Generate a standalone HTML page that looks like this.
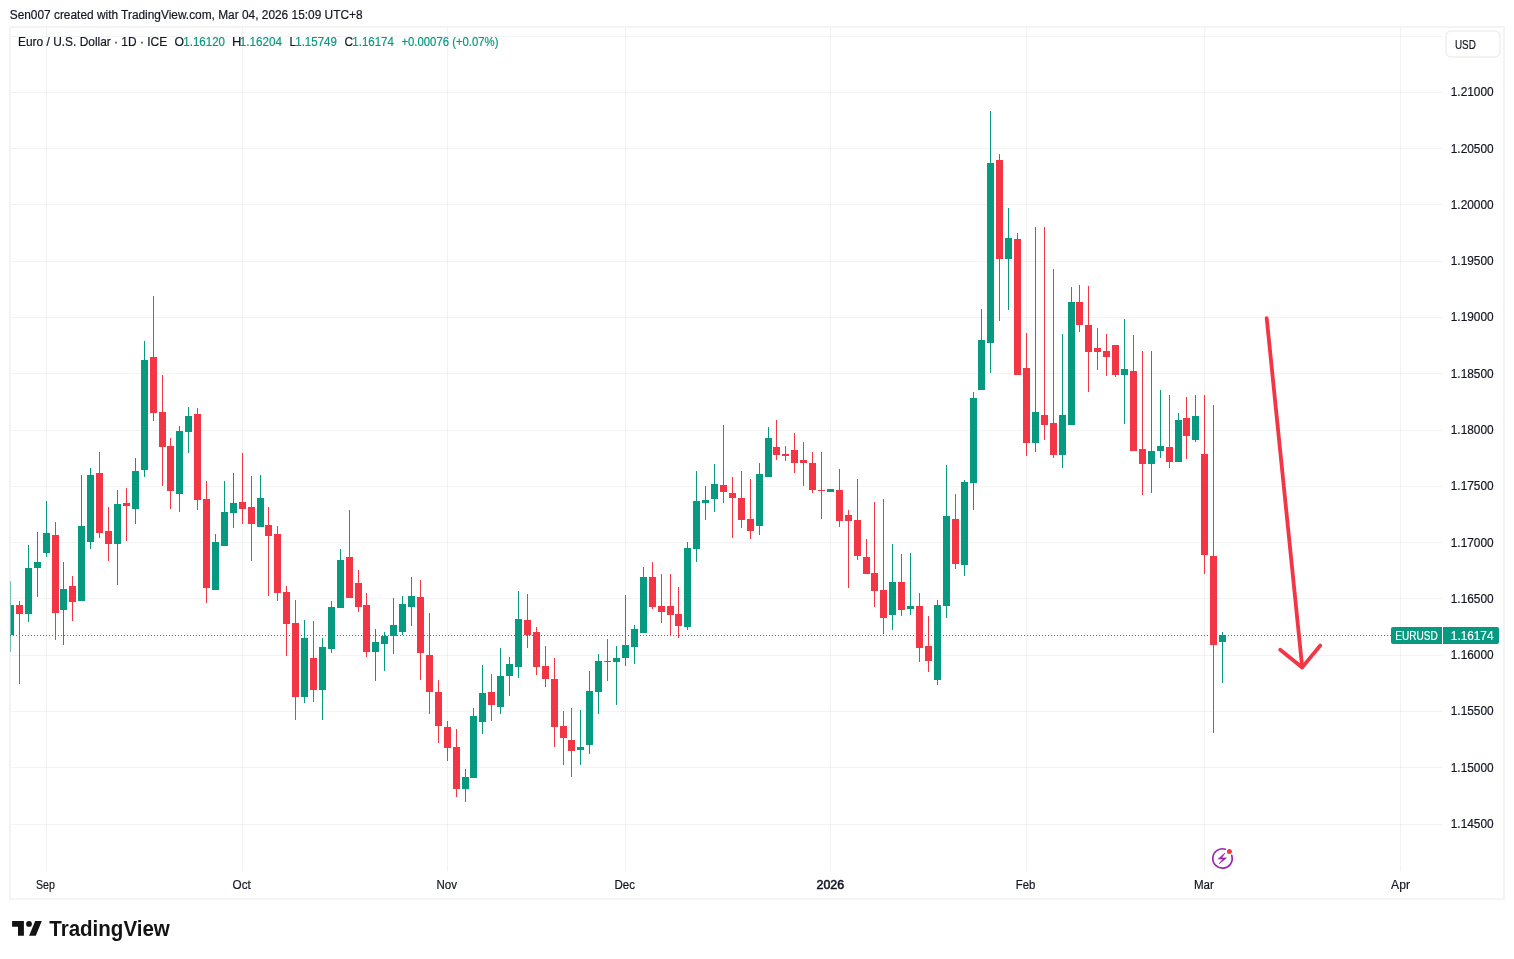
<!DOCTYPE html>
<html><head><meta charset="utf-8">
<style>
html,body{margin:0;padding:0;background:#fff;}
body{width:1514px;height:959px;position:relative;overflow:hidden;font-family:"Liberation Sans",sans-serif;color:#131722;}
text{white-space:pre;}
</style></head><body>
<svg width="1514" height="959" viewBox="0 0 1514 959" style="position:absolute;left:0;top:0;will-change:transform" shape-rendering="crispEdges"><defs><clipPath id="plot"><rect x="11" y="28" width="1431" height="842"/></clipPath></defs><rect x="10" y="27" width="1494" height="872" fill="none" stroke="#F4F4F4" stroke-width="2"/><rect x="11" y="36" width="1431" height="1" fill="rgba(42,46,57,0.06)"/><rect x="11" y="92" width="1431" height="1" fill="rgba(42,46,57,0.06)"/><rect x="11" y="148" width="1431" height="1" fill="rgba(42,46,57,0.06)"/><rect x="11" y="204" width="1431" height="1" fill="rgba(42,46,57,0.06)"/><rect x="11" y="261" width="1431" height="1" fill="rgba(42,46,57,0.06)"/><rect x="11" y="317" width="1431" height="1" fill="rgba(42,46,57,0.06)"/><rect x="11" y="373" width="1431" height="1" fill="rgba(42,46,57,0.06)"/><rect x="11" y="430" width="1431" height="1" fill="rgba(42,46,57,0.06)"/><rect x="11" y="486" width="1431" height="1" fill="rgba(42,46,57,0.06)"/><rect x="11" y="542" width="1431" height="1" fill="rgba(42,46,57,0.06)"/><rect x="11" y="598" width="1431" height="1" fill="rgba(42,46,57,0.06)"/><rect x="11" y="655" width="1431" height="1" fill="rgba(42,46,57,0.06)"/><rect x="11" y="711" width="1431" height="1" fill="rgba(42,46,57,0.06)"/><rect x="11" y="767" width="1431" height="1" fill="rgba(42,46,57,0.06)"/><rect x="11" y="824" width="1431" height="1" fill="rgba(42,46,57,0.06)"/><rect x="46" y="28" width="1" height="843" fill="rgba(42,46,57,0.06)"/><rect x="242" y="28" width="1" height="843" fill="rgba(42,46,57,0.06)"/><rect x="447" y="28" width="1" height="843" fill="rgba(42,46,57,0.06)"/><rect x="625" y="28" width="1" height="843" fill="rgba(42,46,57,0.06)"/><rect x="830" y="28" width="1" height="843" fill="rgba(42,46,57,0.06)"/><rect x="1026" y="28" width="1" height="843" fill="rgba(42,46,57,0.06)"/><rect x="1204" y="28" width="1" height="843" fill="rgba(42,46,57,0.06)"/><rect x="1400" y="28" width="1" height="843" fill="rgba(42,46,57,0.06)"/><g clip-path="url(#plot)"><rect x="10" y="581" width="1" height="71" fill="#089981"/><rect x="7" y="605" width="7" height="30" fill="#089981"/><rect x="19" y="601" width="1" height="83" fill="#F23645"/><rect x="16" y="605" width="7" height="9" fill="#F23645"/><rect x="28" y="545" width="1" height="77" fill="#089981"/><rect x="25" y="568" width="7" height="46" fill="#089981"/><rect x="37" y="532" width="1" height="65" fill="#089981"/><rect x="34" y="562" width="7" height="6" fill="#089981"/><rect x="46" y="501" width="1" height="56" fill="#089981"/><rect x="43" y="533" width="7" height="20" fill="#089981"/><rect x="55" y="522" width="1" height="118" fill="#F23645"/><rect x="52" y="535" width="7" height="78" fill="#F23645"/><rect x="63" y="562" width="1" height="83" fill="#089981"/><rect x="60" y="589" width="7" height="21" fill="#089981"/><rect x="72" y="576" width="1" height="45" fill="#F23645"/><rect x="69" y="586" width="7" height="16" fill="#F23645"/><rect x="81" y="475" width="1" height="126" fill="#089981"/><rect x="78" y="526" width="7" height="75" fill="#089981"/><rect x="90" y="468" width="1" height="81" fill="#089981"/><rect x="87" y="475" width="7" height="67" fill="#089981"/><rect x="99" y="452" width="1" height="86" fill="#F23645"/><rect x="96" y="473" width="7" height="60" fill="#F23645"/><rect x="108" y="507" width="1" height="54" fill="#F23645"/><rect x="105" y="531" width="7" height="13" fill="#F23645"/><rect x="117" y="490" width="1" height="95" fill="#089981"/><rect x="114" y="504" width="7" height="40" fill="#089981"/><rect x="126" y="488" width="1" height="53" fill="#F23645"/><rect x="123" y="503" width="7" height="3" fill="#F23645"/><rect x="135" y="458" width="1" height="66" fill="#089981"/><rect x="132" y="471" width="7" height="38" fill="#089981"/><rect x="144" y="341" width="1" height="136" fill="#089981"/><rect x="141" y="360" width="7" height="110" fill="#089981"/><rect x="153" y="296" width="1" height="125" fill="#F23645"/><rect x="150" y="357" width="7" height="56" fill="#F23645"/><rect x="162" y="375" width="1" height="111" fill="#F23645"/><rect x="159" y="412" width="7" height="35" fill="#F23645"/><rect x="170" y="438" width="1" height="71" fill="#F23645"/><rect x="167" y="446" width="7" height="45" fill="#F23645"/><rect x="179" y="426" width="1" height="86" fill="#089981"/><rect x="176" y="431" width="7" height="63" fill="#089981"/><rect x="188" y="407" width="1" height="46" fill="#089981"/><rect x="185" y="416" width="7" height="16" fill="#089981"/><rect x="197" y="408" width="1" height="102" fill="#F23645"/><rect x="194" y="414" width="7" height="86" fill="#F23645"/><rect x="206" y="481" width="1" height="122" fill="#F23645"/><rect x="203" y="499" width="7" height="89" fill="#F23645"/><rect x="215" y="534" width="1" height="56" fill="#089981"/><rect x="212" y="542" width="7" height="48" fill="#089981"/><rect x="224" y="481" width="1" height="65" fill="#089981"/><rect x="221" y="512" width="7" height="34" fill="#089981"/><rect x="233" y="473" width="1" height="55" fill="#089981"/><rect x="230" y="503" width="7" height="10" fill="#089981"/><rect x="242" y="453" width="1" height="71" fill="#F23645"/><rect x="239" y="502" width="7" height="7" fill="#F23645"/><rect x="251" y="476" width="1" height="85" fill="#F23645"/><rect x="248" y="507" width="7" height="17" fill="#F23645"/><rect x="260" y="475" width="1" height="52" fill="#089981"/><rect x="257" y="498" width="7" height="29" fill="#089981"/><rect x="268" y="507" width="1" height="89" fill="#F23645"/><rect x="265" y="525" width="7" height="11" fill="#F23645"/><rect x="277" y="526" width="1" height="75" fill="#F23645"/><rect x="274" y="534" width="7" height="59" fill="#F23645"/><rect x="286" y="586" width="1" height="70" fill="#F23645"/><rect x="283" y="592" width="7" height="32" fill="#F23645"/><rect x="295" y="600" width="1" height="120" fill="#F23645"/><rect x="292" y="623" width="7" height="74" fill="#F23645"/><rect x="304" y="620" width="1" height="83" fill="#089981"/><rect x="301" y="638" width="7" height="59" fill="#089981"/><rect x="313" y="621" width="1" height="81" fill="#F23645"/><rect x="310" y="658" width="7" height="32" fill="#F23645"/><rect x="322" y="638" width="1" height="82" fill="#089981"/><rect x="319" y="647" width="7" height="43" fill="#089981"/><rect x="331" y="601" width="1" height="52" fill="#089981"/><rect x="328" y="607" width="7" height="42" fill="#089981"/><rect x="340" y="549" width="1" height="59" fill="#089981"/><rect x="337" y="560" width="7" height="48" fill="#089981"/><rect x="349" y="510" width="1" height="88" fill="#F23645"/><rect x="346" y="557" width="7" height="41" fill="#F23645"/><rect x="358" y="570" width="1" height="42" fill="#F23645"/><rect x="355" y="583" width="7" height="24" fill="#F23645"/><rect x="366" y="593" width="1" height="64" fill="#F23645"/><rect x="363" y="605" width="7" height="47" fill="#F23645"/><rect x="375" y="629" width="1" height="52" fill="#089981"/><rect x="372" y="642" width="7" height="10" fill="#089981"/><rect x="384" y="632" width="1" height="39" fill="#089981"/><rect x="381" y="636" width="7" height="8" fill="#089981"/><rect x="393" y="598" width="1" height="56" fill="#089981"/><rect x="390" y="625" width="7" height="11" fill="#089981"/><rect x="402" y="596" width="1" height="39" fill="#089981"/><rect x="399" y="604" width="7" height="28" fill="#089981"/><rect x="411" y="577" width="1" height="49" fill="#089981"/><rect x="408" y="596" width="7" height="11" fill="#089981"/><rect x="420" y="580" width="1" height="100" fill="#F23645"/><rect x="417" y="597" width="7" height="56" fill="#F23645"/><rect x="429" y="613" width="1" height="101" fill="#F23645"/><rect x="426" y="655" width="7" height="37" fill="#F23645"/><rect x="438" y="680" width="1" height="63" fill="#F23645"/><rect x="435" y="692" width="7" height="34" fill="#F23645"/><rect x="447" y="721" width="1" height="40" fill="#F23645"/><rect x="444" y="727" width="7" height="21" fill="#F23645"/><rect x="456" y="729" width="1" height="68" fill="#F23645"/><rect x="453" y="747" width="7" height="42" fill="#F23645"/><rect x="465" y="769" width="1" height="33" fill="#089981"/><rect x="462" y="777" width="7" height="12" fill="#089981"/><rect x="473" y="708" width="1" height="70" fill="#089981"/><rect x="470" y="716" width="7" height="62" fill="#089981"/><rect x="482" y="665" width="1" height="69" fill="#089981"/><rect x="479" y="693" width="7" height="29" fill="#089981"/><rect x="491" y="674" width="1" height="47" fill="#F23645"/><rect x="488" y="692" width="7" height="13" fill="#F23645"/><rect x="500" y="648" width="1" height="66" fill="#089981"/><rect x="497" y="676" width="7" height="31" fill="#089981"/><rect x="509" y="657" width="1" height="39" fill="#089981"/><rect x="506" y="664" width="7" height="12" fill="#089981"/><rect x="518" y="591" width="1" height="87" fill="#089981"/><rect x="515" y="619" width="7" height="48" fill="#089981"/><rect x="527" y="594" width="1" height="54" fill="#F23645"/><rect x="524" y="620" width="7" height="15" fill="#F23645"/><rect x="536" y="627" width="1" height="48" fill="#F23645"/><rect x="533" y="632" width="7" height="35" fill="#F23645"/><rect x="545" y="646" width="1" height="41" fill="#F23645"/><rect x="542" y="666" width="7" height="13" fill="#F23645"/><rect x="554" y="658" width="1" height="89" fill="#F23645"/><rect x="551" y="679" width="7" height="48" fill="#F23645"/><rect x="563" y="711" width="1" height="54" fill="#F23645"/><rect x="560" y="726" width="7" height="12" fill="#F23645"/><rect x="571" y="708" width="1" height="69" fill="#F23645"/><rect x="568" y="740" width="7" height="11" fill="#F23645"/><rect x="580" y="710" width="1" height="55" fill="#089981"/><rect x="577" y="747" width="7" height="3" fill="#089981"/><rect x="589" y="671" width="1" height="83" fill="#089981"/><rect x="586" y="691" width="7" height="54" fill="#089981"/><rect x="598" y="654" width="1" height="60" fill="#089981"/><rect x="595" y="661" width="7" height="31" fill="#089981"/><rect x="607" y="639" width="1" height="42" fill="#F23645"/><rect x="604" y="661" width="7" height="1" fill="#F23645"/><rect x="616" y="646" width="1" height="59" fill="#089981"/><rect x="613" y="658" width="7" height="4" fill="#089981"/><rect x="625" y="595" width="1" height="71" fill="#089981"/><rect x="622" y="645" width="7" height="13" fill="#089981"/><rect x="634" y="625" width="1" height="39" fill="#089981"/><rect x="631" y="629" width="7" height="18" fill="#089981"/><rect x="643" y="567" width="1" height="66" fill="#089981"/><rect x="640" y="577" width="7" height="56" fill="#089981"/><rect x="652" y="562" width="1" height="47" fill="#F23645"/><rect x="649" y="577" width="7" height="30" fill="#F23645"/><rect x="661" y="574" width="1" height="49" fill="#F23645"/><rect x="658" y="606" width="7" height="6" fill="#F23645"/><rect x="670" y="574" width="1" height="61" fill="#F23645"/><rect x="667" y="606" width="7" height="9" fill="#F23645"/><rect x="678" y="587" width="1" height="51" fill="#F23645"/><rect x="675" y="614" width="7" height="12" fill="#F23645"/><rect x="687" y="542" width="1" height="88" fill="#089981"/><rect x="684" y="548" width="7" height="79" fill="#089981"/><rect x="696" y="471" width="1" height="91" fill="#089981"/><rect x="693" y="501" width="7" height="48" fill="#089981"/><rect x="705" y="486" width="1" height="34" fill="#089981"/><rect x="702" y="500" width="7" height="3" fill="#089981"/><rect x="714" y="464" width="1" height="48" fill="#089981"/><rect x="711" y="484" width="7" height="15" fill="#089981"/><rect x="723" y="425" width="1" height="78" fill="#F23645"/><rect x="720" y="485" width="7" height="7" fill="#F23645"/><rect x="732" y="477" width="1" height="61" fill="#F23645"/><rect x="729" y="493" width="7" height="5" fill="#F23645"/><rect x="741" y="471" width="1" height="57" fill="#F23645"/><rect x="738" y="498" width="7" height="22" fill="#F23645"/><rect x="750" y="479" width="1" height="60" fill="#F23645"/><rect x="747" y="519" width="7" height="12" fill="#F23645"/><rect x="759" y="463" width="1" height="72" fill="#089981"/><rect x="756" y="474" width="7" height="52" fill="#089981"/><rect x="768" y="427" width="1" height="50" fill="#089981"/><rect x="765" y="438" width="7" height="39" fill="#089981"/><rect x="776" y="420" width="1" height="40" fill="#F23645"/><rect x="773" y="447" width="7" height="8" fill="#F23645"/><rect x="785" y="446" width="1" height="15" fill="#F23645"/><rect x="782" y="454" width="7" height="2" fill="#F23645"/><rect x="794" y="433" width="1" height="40" fill="#F23645"/><rect x="791" y="450" width="7" height="13" fill="#F23645"/><rect x="803" y="442" width="1" height="44" fill="#F23645"/><rect x="800" y="460" width="7" height="3" fill="#F23645"/><rect x="812" y="452" width="1" height="41" fill="#F23645"/><rect x="809" y="463" width="7" height="27" fill="#F23645"/><rect x="821" y="452" width="1" height="67" fill="#F23645"/><rect x="818" y="490" width="7" height="1" fill="#F23645"/><rect x="830" y="489" width="1" height="3" fill="#089981"/><rect x="827" y="489" width="7" height="3" fill="#089981"/><rect x="839" y="469" width="1" height="58" fill="#F23645"/><rect x="836" y="490" width="7" height="31" fill="#F23645"/><rect x="848" y="510" width="1" height="78" fill="#F23645"/><rect x="845" y="515" width="7" height="6" fill="#F23645"/><rect x="857" y="479" width="1" height="81" fill="#F23645"/><rect x="854" y="520" width="7" height="36" fill="#F23645"/><rect x="866" y="539" width="1" height="35" fill="#F23645"/><rect x="863" y="557" width="7" height="17" fill="#F23645"/><rect x="874" y="502" width="1" height="105" fill="#F23645"/><rect x="871" y="573" width="7" height="18" fill="#F23645"/><rect x="883" y="499" width="1" height="135" fill="#F23645"/><rect x="880" y="590" width="7" height="28" fill="#F23645"/><rect x="892" y="544" width="1" height="86" fill="#089981"/><rect x="889" y="582" width="7" height="33" fill="#089981"/><rect x="901" y="554" width="1" height="62" fill="#F23645"/><rect x="898" y="582" width="7" height="28" fill="#F23645"/><rect x="910" y="553" width="1" height="62" fill="#089981"/><rect x="907" y="606" width="7" height="3" fill="#089981"/><rect x="919" y="593" width="1" height="69" fill="#F23645"/><rect x="916" y="606" width="7" height="42" fill="#F23645"/><rect x="928" y="616" width="1" height="56" fill="#F23645"/><rect x="925" y="646" width="7" height="15" fill="#F23645"/><rect x="937" y="600" width="1" height="85" fill="#089981"/><rect x="934" y="605" width="7" height="75" fill="#089981"/><rect x="946" y="465" width="1" height="153" fill="#089981"/><rect x="943" y="516" width="7" height="90" fill="#089981"/><rect x="955" y="494" width="1" height="75" fill="#F23645"/><rect x="952" y="519" width="7" height="45" fill="#F23645"/><rect x="964" y="480" width="1" height="96" fill="#089981"/><rect x="961" y="482" width="7" height="83" fill="#089981"/><rect x="973" y="392" width="1" height="118" fill="#089981"/><rect x="970" y="398" width="7" height="85" fill="#089981"/><rect x="981" y="309" width="1" height="81" fill="#089981"/><rect x="978" y="340" width="7" height="50" fill="#089981"/><rect x="990" y="111" width="1" height="262" fill="#089981"/><rect x="987" y="163" width="7" height="180" fill="#089981"/><rect x="999" y="154" width="1" height="167" fill="#F23645"/><rect x="996" y="160" width="7" height="99" fill="#F23645"/><rect x="1008" y="208" width="1" height="102" fill="#089981"/><rect x="1005" y="238" width="7" height="21" fill="#089981"/><rect x="1017" y="233" width="1" height="142" fill="#F23645"/><rect x="1014" y="239" width="7" height="136" fill="#F23645"/><rect x="1026" y="333" width="1" height="123" fill="#F23645"/><rect x="1023" y="368" width="7" height="75" fill="#F23645"/><rect x="1035" y="227" width="1" height="225" fill="#089981"/><rect x="1032" y="412" width="7" height="31" fill="#089981"/><rect x="1044" y="227" width="1" height="213" fill="#F23645"/><rect x="1041" y="415" width="7" height="10" fill="#F23645"/><rect x="1053" y="269" width="1" height="189" fill="#F23645"/><rect x="1050" y="423" width="7" height="32" fill="#F23645"/><rect x="1062" y="334" width="1" height="134" fill="#089981"/><rect x="1059" y="415" width="7" height="40" fill="#089981"/><rect x="1071" y="287" width="1" height="138" fill="#089981"/><rect x="1068" y="302" width="7" height="123" fill="#089981"/><rect x="1079" y="285" width="1" height="47" fill="#F23645"/><rect x="1076" y="302" width="7" height="23" fill="#F23645"/><rect x="1088" y="286" width="1" height="106" fill="#F23645"/><rect x="1085" y="325" width="7" height="27" fill="#F23645"/><rect x="1097" y="328" width="1" height="42" fill="#F23645"/><rect x="1094" y="348" width="7" height="4" fill="#F23645"/><rect x="1106" y="334" width="1" height="42" fill="#F23645"/><rect x="1103" y="351" width="7" height="6" fill="#F23645"/><rect x="1115" y="345" width="1" height="32" fill="#F23645"/><rect x="1112" y="345" width="7" height="30" fill="#F23645"/><rect x="1124" y="319" width="1" height="105" fill="#089981"/><rect x="1121" y="369" width="7" height="6" fill="#089981"/><rect x="1133" y="335" width="1" height="116" fill="#F23645"/><rect x="1130" y="371" width="7" height="80" fill="#F23645"/><rect x="1142" y="351" width="1" height="144" fill="#F23645"/><rect x="1139" y="449" width="7" height="15" fill="#F23645"/><rect x="1151" y="351" width="1" height="142" fill="#089981"/><rect x="1148" y="451" width="7" height="13" fill="#089981"/><rect x="1160" y="390" width="1" height="68" fill="#089981"/><rect x="1157" y="446" width="7" height="5" fill="#089981"/><rect x="1169" y="395" width="1" height="73" fill="#F23645"/><rect x="1166" y="447" width="7" height="15" fill="#F23645"/><rect x="1178" y="413" width="1" height="49" fill="#089981"/><rect x="1175" y="420" width="7" height="42" fill="#089981"/><rect x="1186" y="397" width="1" height="62" fill="#F23645"/><rect x="1183" y="418" width="7" height="18" fill="#F23645"/><rect x="1195" y="395" width="1" height="47" fill="#089981"/><rect x="1192" y="416" width="7" height="24" fill="#089981"/><rect x="1204" y="395" width="1" height="179" fill="#F23645"/><rect x="1201" y="454" width="7" height="101" fill="#F23645"/><rect x="1213" y="405" width="1" height="328" fill="#F23645"/><rect x="1210" y="556" width="7" height="89" fill="#F23645"/><rect x="1222" y="632" width="1" height="51" fill="#089981"/><rect x="1219" y="635" width="7" height="7" fill="#089981"/></g><rect x="10" y="581" width="1" height="71" fill="#089981" opacity="0.55"/><line x1="10" y1="635.5" x2="1442" y2="635.5" stroke="#089981" stroke-width="1" stroke-dasharray="1 2"/><g stroke="#F23645" stroke-width="3.8" stroke-linecap="round" stroke-linejoin="round" fill="none" shape-rendering="geometricPrecision"><path d="M1266.7 318.2 L1302.2 667.2"/><path d="M1280.2 649.7 L1302.2 667.4 L1320.3 645.5"/></g><path d="M1393 627 H1442 V644 H1393 Q1391 644 1391 642 V629 Q1391 627 1393 627 Z" fill="#089981" shape-rendering="geometricPrecision"/><path d="M1443 627 H1497 Q1499 627 1499 629 V642 Q1499 644 1497 644 H1443 Z" fill="#089981" shape-rendering="geometricPrecision"/><rect x="1446" y="31" width="54" height="26" rx="5" fill="#fff" stroke="#EFEFEF" stroke-width="1.5" shape-rendering="geometricPrecision"/><g shape-rendering="geometricPrecision"><path d="M1231.69 855.39 A9.7 9.7 0 1 1 1225.42 849.25" fill="none" stroke="#9C27B0" stroke-width="1.7" stroke-linecap="round"/><path d="M1224.90 853.10 L1218.30 858.90 L1223.00 858.90 L1219.30 863.70 L1226.40 857.90 L1221.70 857.90 Z" fill="#9C27B0" stroke="#9C27B0" stroke-width="0.7" stroke-linejoin="round"/><circle cx="1229.4" cy="851.5" r="2.5" fill="#F23645"/></g><g fill="#131313" shape-rendering="geometricPrecision"><path d="M12.1 921.1 H23.9 V935.8 H18.0 V926.8 H12.1 Z"/><circle cx="29.0" cy="923.9" r="2.9"/><path d="M35.2 921.1 H41.8 L35.8 935.8 H29.1 Z"/></g><text x="1450.78" y="96" font-family="Liberation Sans" font-size="12" font-weight="normal" fill="#131722" stroke="#131722" stroke-width="0.2" textLength="42.82" lengthAdjust="spacingAndGlyphs" shape-rendering="geometricPrecision">1.21000</text><text x="1450.78" y="153" font-family="Liberation Sans" font-size="12" font-weight="normal" fill="#131722" stroke="#131722" stroke-width="0.2" textLength="42.82" lengthAdjust="spacingAndGlyphs" shape-rendering="geometricPrecision">1.20500</text><text x="1450.78" y="209" font-family="Liberation Sans" font-size="12" font-weight="normal" fill="#131722" stroke="#131722" stroke-width="0.2" textLength="42.82" lengthAdjust="spacingAndGlyphs" shape-rendering="geometricPrecision">1.20000</text><text x="1450.78" y="265" font-family="Liberation Sans" font-size="12" font-weight="normal" fill="#131722" stroke="#131722" stroke-width="0.2" textLength="42.82" lengthAdjust="spacingAndGlyphs" shape-rendering="geometricPrecision">1.19500</text><text x="1450.78" y="321" font-family="Liberation Sans" font-size="12" font-weight="normal" fill="#131722" stroke="#131722" stroke-width="0.2" textLength="42.82" lengthAdjust="spacingAndGlyphs" shape-rendering="geometricPrecision">1.19000</text><text x="1450.78" y="378" font-family="Liberation Sans" font-size="12" font-weight="normal" fill="#131722" stroke="#131722" stroke-width="0.2" textLength="42.82" lengthAdjust="spacingAndGlyphs" shape-rendering="geometricPrecision">1.18500</text><text x="1450.78" y="434" font-family="Liberation Sans" font-size="12" font-weight="normal" fill="#131722" stroke="#131722" stroke-width="0.2" textLength="42.82" lengthAdjust="spacingAndGlyphs" shape-rendering="geometricPrecision">1.18000</text><text x="1450.78" y="490" font-family="Liberation Sans" font-size="12" font-weight="normal" fill="#131722" stroke="#131722" stroke-width="0.2" textLength="42.82" lengthAdjust="spacingAndGlyphs" shape-rendering="geometricPrecision">1.17500</text><text x="1450.78" y="547" font-family="Liberation Sans" font-size="12" font-weight="normal" fill="#131722" stroke="#131722" stroke-width="0.2" textLength="42.82" lengthAdjust="spacingAndGlyphs" shape-rendering="geometricPrecision">1.17000</text><text x="1450.78" y="603" font-family="Liberation Sans" font-size="12" font-weight="normal" fill="#131722" stroke="#131722" stroke-width="0.2" textLength="42.82" lengthAdjust="spacingAndGlyphs" shape-rendering="geometricPrecision">1.16500</text><text x="1450.78" y="659" font-family="Liberation Sans" font-size="12" font-weight="normal" fill="#131722" stroke="#131722" stroke-width="0.2" textLength="42.82" lengthAdjust="spacingAndGlyphs" shape-rendering="geometricPrecision">1.16000</text><text x="1450.78" y="715" font-family="Liberation Sans" font-size="12" font-weight="normal" fill="#131722" stroke="#131722" stroke-width="0.2" textLength="42.82" lengthAdjust="spacingAndGlyphs" shape-rendering="geometricPrecision">1.15500</text><text x="1450.78" y="772" font-family="Liberation Sans" font-size="12" font-weight="normal" fill="#131722" stroke="#131722" stroke-width="0.2" textLength="42.82" lengthAdjust="spacingAndGlyphs" shape-rendering="geometricPrecision">1.15000</text><text x="1450.78" y="828" font-family="Liberation Sans" font-size="12" font-weight="normal" fill="#131722" stroke="#131722" stroke-width="0.2" textLength="42.82" lengthAdjust="spacingAndGlyphs" shape-rendering="geometricPrecision">1.14500</text><text x="35.90" y="889" font-family="Liberation Sans" font-size="12" font-weight="normal" fill="#131722" stroke="#131722" stroke-width="0.2" textLength="18.90" lengthAdjust="spacingAndGlyphs" shape-rendering="geometricPrecision">Sep</text><text x="232.58" y="889" font-family="Liberation Sans" font-size="12" font-weight="normal" fill="#131722" stroke="#131722" stroke-width="0.2" textLength="18.22" lengthAdjust="spacingAndGlyphs" shape-rendering="geometricPrecision">Oct</text><text x="436.40" y="889" font-family="Liberation Sans" font-size="12" font-weight="normal" fill="#131722" stroke="#131722" stroke-width="0.2" textLength="20.52" lengthAdjust="spacingAndGlyphs" shape-rendering="geometricPrecision">Nov</text><text x="614.40" y="889" font-family="Liberation Sans" font-size="12" font-weight="normal" fill="#131722" stroke="#131722" stroke-width="0.2" textLength="20.52" lengthAdjust="spacingAndGlyphs" shape-rendering="geometricPrecision">Dec</text><text x="816.52" y="889" font-family="Liberation Sans" font-size="12" font-weight="normal" fill="#131722" stroke="#131722" stroke-width="0.55" textLength="27.58" lengthAdjust="spacingAndGlyphs" shape-rendering="geometricPrecision">2026</text><text x="1015.78" y="889" font-family="Liberation Sans" font-size="12" font-weight="normal" fill="#131722" stroke="#131722" stroke-width="0.2" textLength="19.58" lengthAdjust="spacingAndGlyphs" shape-rendering="geometricPrecision">Feb</text><text x="1193.90" y="889" font-family="Liberation Sans" font-size="12" font-weight="normal" fill="#131722" stroke="#131722" stroke-width="0.2" textLength="19.90" lengthAdjust="spacingAndGlyphs" shape-rendering="geometricPrecision">Mar</text><text x="1391.08" y="889" font-family="Liberation Sans" font-size="12" font-weight="normal" fill="#131722" stroke="#131722" stroke-width="0.2" textLength="18.90" lengthAdjust="spacingAndGlyphs" shape-rendering="geometricPrecision">Apr</text><text x="9.71" y="19" font-family="Liberation Sans" font-size="12.5" font-weight="normal" fill="#131722" stroke="#131722" stroke-width="0.2" textLength="352.83" lengthAdjust="spacingAndGlyphs" shape-rendering="geometricPrecision">Sen007 created with TradingView.com, Mar 04, 2026 15:09 UTC+8</text><text x="18.02" y="46" font-family="Liberation Sans" font-size="12.2" font-weight="normal" fill="#131722" stroke="#131722" stroke-width="0.2" textLength="149.08" lengthAdjust="spacingAndGlyphs" shape-rendering="geometricPrecision">Euro / U.S. Dollar · 1D · ICE</text><text x="174.52" y="46" font-family="Liberation Sans" font-size="12.2" font-weight="normal" fill="#131722" stroke="#131722" stroke-width="0.2" textLength="9.52" lengthAdjust="spacingAndGlyphs" shape-rendering="geometricPrecision">O</text><text x="183.28" y="46" font-family="Liberation Sans" font-size="12.2" font-weight="normal" fill="#089981" stroke="#089981" stroke-width="0.2" textLength="41.70" lengthAdjust="spacingAndGlyphs" shape-rendering="geometricPrecision">1.16120</text><text x="231.90" y="46" font-family="Liberation Sans" font-size="12.2" font-weight="normal" fill="#131722" stroke="#131722" stroke-width="0.2" textLength="9.38" lengthAdjust="spacingAndGlyphs" shape-rendering="geometricPrecision">H</text><text x="239.78" y="46" font-family="Liberation Sans" font-size="12.2" font-weight="normal" fill="#089981" stroke="#089981" stroke-width="0.2" textLength="42.20" lengthAdjust="spacingAndGlyphs" shape-rendering="geometricPrecision">1.16204</text><text x="289.46" y="46" font-family="Liberation Sans" font-size="12.2" font-weight="normal" fill="#131722" stroke="#131722" stroke-width="0.2" textLength="6.46" lengthAdjust="spacingAndGlyphs" shape-rendering="geometricPrecision">L</text><text x="295.28" y="46" font-family="Liberation Sans" font-size="12.2" font-weight="normal" fill="#089981" stroke="#089981" stroke-width="0.2" textLength="41.58" lengthAdjust="spacingAndGlyphs" shape-rendering="geometricPrecision">1.15749</text><text x="344.46" y="46" font-family="Liberation Sans" font-size="12.2" font-weight="normal" fill="#131722" stroke="#131722" stroke-width="0.2" textLength="8.58" lengthAdjust="spacingAndGlyphs" shape-rendering="geometricPrecision">C</text><text x="352.34" y="46" font-family="Liberation Sans" font-size="12.2" font-weight="normal" fill="#089981" stroke="#089981" stroke-width="0.2" textLength="41.46" lengthAdjust="spacingAndGlyphs" shape-rendering="geometricPrecision">1.16174</text><text x="401.40" y="46" font-family="Liberation Sans" font-size="12.2" font-weight="normal" fill="#089981" stroke="#089981" stroke-width="0.2" textLength="97.08" lengthAdjust="spacingAndGlyphs" shape-rendering="geometricPrecision">+0.00076 (+0.07%)</text><text x="1454.90" y="49" font-family="Liberation Sans" font-size="12" font-weight="normal" fill="#131722" stroke="#131722" stroke-width="0.2" textLength="20.90" lengthAdjust="spacingAndGlyphs" shape-rendering="geometricPrecision">USD</text><text x="1395.34" y="640" font-family="Liberation Sans" font-size="12.4" font-weight="normal" fill="#ffffff" stroke="#ffffff" stroke-width="0.2" textLength="42.52" lengthAdjust="spacingAndGlyphs" shape-rendering="geometricPrecision">EURUSD</text><text x="1450.84" y="640" font-family="Liberation Sans" font-size="12.4" font-weight="normal" fill="#ffffff" stroke="#ffffff" stroke-width="0.2" textLength="42.64" lengthAdjust="spacingAndGlyphs" shape-rendering="geometricPrecision">1.16174</text><text x="49.26" y="936" font-family="Liberation Sans" font-size="21.4" font-weight="bold" fill="#131313" textLength="120.60" lengthAdjust="spacingAndGlyphs" shape-rendering="geometricPrecision">TradingView</text></svg>
</body></html>
